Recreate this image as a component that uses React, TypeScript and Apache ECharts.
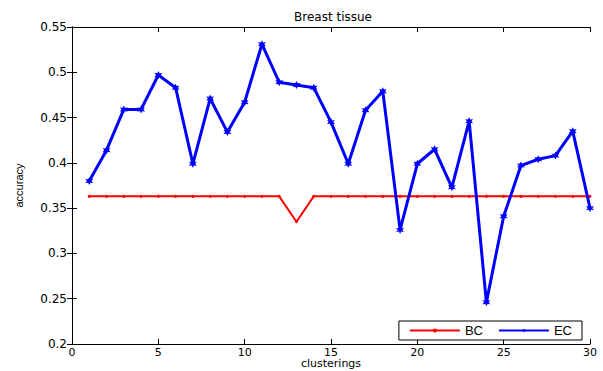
import React, { useEffect, useRef } from "react";
import * as echarts from "echarts";

const clusterings = [1,2,3,4,5,6,7,8,9,10,11,12,13,14,15,16,17,18,19,20,21,22,23,24,25,26,27,28,29,30];
const bcValues = [0.363,0.363,0.363,0.363,0.363,0.363,0.363,0.363,0.363,0.363,0.363,0.363,0.335,0.363,0.363,0.363,0.363,0.363,0.363,0.363,0.363,0.363,0.363,0.363,0.363,0.363,0.363,0.363,0.363,0.363];
const ecValues = [0.380,0.414,0.459,0.459,0.497,0.483,0.399,0.471,0.434,0.467,0.531,0.489,0.486,0.483,0.445,0.399,0.458,0.479,0.326,0.399,0.415,0.373,0.446,0.246,0.341,0.397,0.404,0.408,0.435,0.350];
const titleText = "Breast tissue";
const xName = "clusterings";
const yName = "accuracy";

const starPath = "path://M0,-10 L2.5,-4.3 L8.7,-5 L5,0 L8.7,5 L2.5,4.3 L0,10 L-2.5,4.3 L-8.7,5 L-5,0 L-8.7,-5 L-2.5,-4.3 Z";

export default function App() {
  const ref = useRef<HTMLDivElement>(null);
  useEffect(() => {
    if (!ref.current) return;
    const chart = echarts.init(ref.current, null, { renderer: "svg" });
    const font = "'DejaVu Sans', sans-serif";
    const font2 = "'Liberation Sans', Arial, sans-serif";
    const axisLine = { show: true, lineStyle: { color: "#000", width: 1 } };
    const tick = { show: true, inside: true, length: 5, lineStyle: { color: "#000" } };
    chart.setOption({
      animation: false,
      backgroundColor: "#fff",
      textStyle: { fontFamily: font },
      title: {
        text: titleText,
        left: 328,
        textAlign: "center",
        top: 6,
        textStyle: { fontSize: 12, fontWeight: "normal", color: "#000", fontFamily: font },
      },
      grid: { left: 72, right: 13, top: 27, bottom: 27, show: false, outerBoundsMode: "none", containLabel: false },
      legend: {
        right: 21,
        bottom: 31,
        orient: "horizontal",
        data: ["BC", "EC"],
        itemWidth: 50,
        itemHeight: 5,
        itemGap: 15,
        borderColor: "#000",
        borderWidth: 1,
        borderRadius: 0,
        backgroundColor: "#fff",
        padding: [3, 10, 3, 10],
        textStyle: { fontSize: 13, color: "#000", fontFamily: font2 },
      },
      xAxis: [
        {
          type: "value",
          min: 0,
          max: 30,
          interval: 5,
          name: xName,
          nameLocation: "middle",
          nameGap: 14,
          nameMoveOverlap: false,
          nameTextStyle: { fontSize: 11, lineHeight: 11, color: "#000", fontFamily: font, verticalAlign: "top" },
          axisLine,
          axisTick: tick,
          axisLabel: { color: "#000", fontSize: 11, lineHeight: 10, margin: 3, fontFamily: font },
          splitLine: { show: false },
        },
        {
          type: "value",
          position: "top",
          min: 0,
          max: 30,
          interval: 5,
          axisLine,
          axisTick: tick,
          axisLabel: { show: false },
          splitLine: { show: false },
        },
      ],
      yAxis: [
        {
          type: "value",
          min: 0.2,
          max: 0.55,
          interval: 0.05,
          name: yName,
          nameLocation: "middle",
          nameGap: 48,
          nameTextStyle: { fontSize: 11, color: "#000", fontFamily: font2 },
          axisLine,
          axisTick: tick,
          axisLabel: { color: "#000", fontSize: 12, margin: 5, fontFamily: font },
          splitLine: { show: false },
        },
        {
          type: "value",
          position: "right",
          min: 0.2,
          max: 0.55,
          interval: 0.05,
          axisLine,
          axisTick: tick,
          axisLabel: { show: false },
          splitLine: { show: false },
        },
      ],
      series: [
        {
          name: "BC",
          type: "line",
          data: clusterings.map((c, i) => [c, bcValues[i]]),
          symbol: "circle",
          symbolSize: 3,
          showSymbol: true,
          lineStyle: { color: "#ff0000", width: 2 },
          itemStyle: { color: "#ff0000" },
          z: 3,
        },
        {
          name: "EC",
          type: "line",
          data: clusterings.map((c, i) => [c, ecValues[i]]),
          symbol: starPath,
          symbolSize: 8,
          showSymbol: true,
          lineStyle: { color: "#0000ff", width: 3 },
          itemStyle: { color: "#0000ff" },
          z: 4,
        },
      ],
    });
    return () => chart.dispose();
  }, []);
  return <div ref={ref} style={{ width: 603, height: 371, position: "absolute", left: 0, top: 0 }} />;
}
